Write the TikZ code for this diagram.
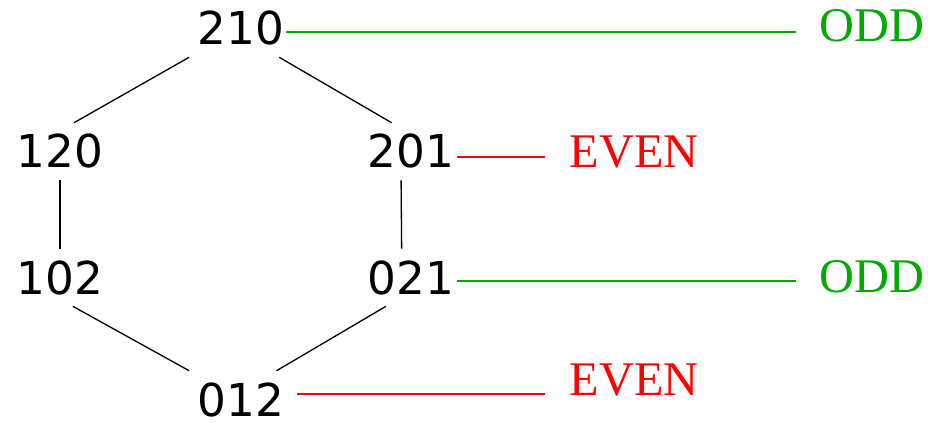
\documentclass[tikz,border=0pt]{standalone}
\usepackage{fontspec}
\newfontfamily\permfont{DejaVu Sans}
\newfontfamily\parityfont{Liberation Serif}
\definecolor{oddgreen}{RGB}{0,170,0}
\definecolor{evenred}{RGB}{255,0,0}

\begin{document}
\begin{tikzpicture}[x=0.02cm, y=-0.02cm, line width=0.75pt,
    perm/.style={font=\permfont\fontsize{25.8}{30}\selectfont, inner xsep=0.16cm, inner ysep=0.22cm, anchor=base},
    parity/.style={font=\parityfont\fontsize{27.5}{32}\selectfont, inner xsep=0.47cm, inner ysep=0pt, anchor=base},
    odd/.style={draw=oddgreen},
    even/.style={draw=evenred}]
      \useasboundingbox (0,0) rectangle (928,422);
      \node (P210) [perm] at (241,45) {210};
      \node (P120) [perm] at (60,168) {120};
      \node (P201) [perm] at (411,168) {201};
      \node (P102) [perm] at (60,294) {102};
      \node (P021) [perm] at (411,294) {021};
      \node (P012) [perm] at (241,416) {012};
      \node (O1) [parity, text=oddgreen] at (872,42) {ODD};
      \node (E1) [parity, text=evenred] at (634,168) {EVEN};
      \node (O2) [parity, text=oddgreen] at (872,292) {ODD};
      \node (E2) [parity, text=evenred] at (634,395) {EVEN};
      \draw [-] (P210.south west) to (P120.64);
      \draw [-] (P210.-37) to (P201.124);
      \draw [-] (P120.south) to (P102.north);
      \draw [-] (P201.-109) to (P021.108);
      \draw [-] (P102.-66) to (P012.north west);
      \draw [-] (P021.-131) to (P012.39);
      \draw [odd, shorten <=-0.14cm] (P210.east |- 0,32) to (O1.west |- 0,32);
      \draw [even, shorten <=-0.12cm] (P201.east |- 0,157) to (E1.west |- 0,157);
      \draw [odd, shorten <=-0.12cm] (P021.east |- 0,281) to (O2.west |- 0,281);
      \draw [even, shorten <=0.08cm] (P012.east |- 0,394) to (E2.west |- 0,394);
\end{tikzpicture}
\end{document}
